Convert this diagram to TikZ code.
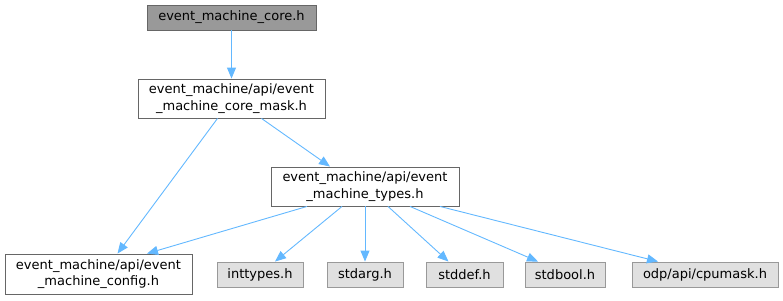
\documentclass[tikz,border=0pt]{standalone}
\usepackage{fontspec}
\setmainfont{DejaVu Sans}
\usetikzlibrary{arrows.meta}
\definecolor{edgec}{HTML}{63B8FF}
\definecolor{sysfill}{HTML}{E0E0E0}
\definecolor{sysdraw}{HTML}{999999}
\definecolor{curfill}{HTML}{999999}
\definecolor{curdraw}{HTML}{666666}
\definecolor{boxdraw}{HTML}{666666}
\tikzset{
  base/.style={inner sep=0pt, align=center, font=\fontsize{13pt}{16.5pt}\selectfont, line width=0.9pt},
  filebox/.style={base, draw=boxdraw, fill=white},
  sysbox/.style={base, draw=sysdraw, fill=sysfill, minimum height=25pt},
  curbox/.style={base, draw=curdraw, fill=curfill, minimum height=25pt},
  dep/.style={draw=edgec, line width=0.9pt, -{Triangle[length=11pt,width=9pt]}},
}
\begin{document}
\begin{tikzpicture}[x=1pt,y=-1pt]
\useasboundingbox (0,0) rectangle (783,300);
\node[curbox, minimum width=169pt] (core) at (231.5,17.5) {event\_machine\_core.h};
\node[filebox, minimum width=187pt, minimum height=39pt] (mask) at (231.5,98.5) {event\_machine/api/event\\\_machine\_core\_mask.h};
\node[filebox, minimum width=188pt, minimum height=39pt] (types) at (365,186.5) {event\_machine/api/event\\\_machine\_types.h};
\node[filebox, minimum width=187pt, minimum height=40pt] (config) at (98.5,274) {event\_machine/api/event\\\_machine\_config.h};
\node[sysbox, minimum width=86pt] (inttypes) at (260,274.5) {inttypes.h};
\node[sysbox, minimum width=76pt] (stdarg) at (365,274.5) {stdarg.h};
\node[sysbox, minimum width=77pt] (stddef) at (464.5,274.5) {stddef.h};
\node[sysbox, minimum width=80pt] (stdbool) at (565,274.5) {stdbool.h};
\node[sysbox, minimum width=146pt] (cpumask) at (705,274.5) {odp/api/cpumask.h};

\draw[dep] (core.south) -- (mask.north);
\draw[dep] ([xshift=-14pt]mask.south) -- ([xshift=19pt]config.north);
\draw[dep] ([xshift=30pt]mask.south) -- ([xshift=-35pt]types.north);
\draw[dep] ([xshift=-58pt]types.south) -- ([xshift=48.5pt]config.north);
\draw[dep] ([xshift=-23pt]types.south) -- ([xshift=15pt]inttypes.north);
\draw[dep] (types.south) -- (stdarg.north);
\draw[dep] ([xshift=23pt]types.south) -- ([xshift=-16pt]stddef.north);
\draw[dep] ([xshift=45pt]types.south) -- ([xshift=-27pt]stdbool.north);
\draw[dep] ([xshift=75pt]types.south) -- ([xshift=-47pt]cpumask.north);
\end{tikzpicture}
\end{document}
